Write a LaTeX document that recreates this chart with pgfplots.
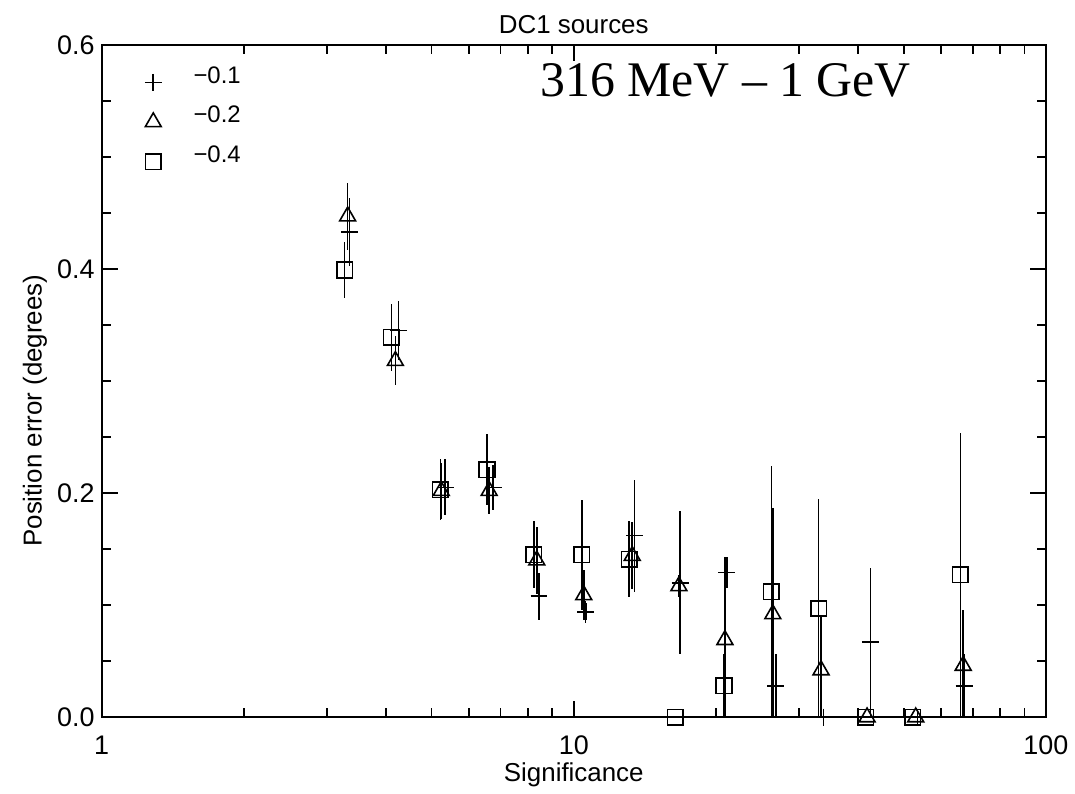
\documentclass[border=0pt]{standalone}
\usepackage{fontspec}
\setmainfont{Liberation Sans}
\newfontfamily\timesfont{Liberation Serif}
\usepackage{pgfplots}
\pgfplotsset{compat=1.18}
\begin{document}
\begin{tikzpicture}
\begin{axis}[
    xmode=log,
    scale only axis,
    width=474pt, height=337.5pt,
    xmin=1, xmax=100,
    ymin=0, ymax=0.6,
    clip mode=individual,
    xtick={1,10,100}, xticklabels={1,10,100},
    ytick={0,0.2,0.4,0.6},
    minor ytick={0.05,0.1,0.15,0.25,0.3,0.35,0.45,0.5,0.55},
    yticklabel style={/pgf/number format/.cd, fixed, fixed zerofill, precision=1},
    /pgf/number format/assume math mode=true,
    tick label style={font=\fontsize{13.5}{15}\selectfont},
    xticklabel style={anchor=base, yshift=-18.5pt},
    title={DC1 sources},
    title style={font=\fontsize{13}{15}\selectfont, at={(rel axis cs:0.5,1)}, anchor=base, yshift=-0.5pt},
    xlabel={Significance},
    xlabel style={font=\fontsize{13}{15}\selectfont, at={(rel axis cs:0.5,0)}, anchor=base, yshift=-32.5pt},
    ylabel={Position error (degrees)},
    every axis y label/.style={font=\fontsize{13}{15}\selectfont, at={(rel axis cs:-0.0707,0.456)}, anchor=center, rotate=90},
    axis line style={line width=1pt},
    major tick length=8pt, minor tick length=4.5pt,
    every tick/.style={black, line width=0.8pt},
    legend style={draw=none, fill=none, at={(rel axis cs:0.037,0.98)}, anchor=north west,
      font=\fontsize{12}{14}\selectfont, row sep=0pt},
    legend cell align=left,
    legmark/.style={legend image code/.code={%
      \path (-5pt,0pt) (18pt,0pt);
      \draw[##1] plot coordinates {(0pt,0pt)};}},
    error bars/y dir=both, error bars/y explicit,
    error bars/error mark=none,
    error bars/error bar style={line width=0.75pt},
  ]

  % index -0.1
  \addplot[only marks, legmark, mark=+, mark size=4.25pt, mark options={line width=0.8pt}] coordinates {
    (3.35,0.433) +- (0,0.03)
    (4.25,0.345) +- (0,0.026)
    (5.34,0.205) +- (0,0.025)
    (6.75,0.205) +- (0,0.02)
    (8.44,0.108) +- (0,0.021)
    (10.6,0.094) +- (0,0.01)
    (13.45,0.162) +- (0,0.05)
    (16.8,0.120) +- (0,0.064)
    (21.1,0.129) +- (0,0.014)
    (26.8,0.028) +- (0,0.028)
    (33.8,0.0) +- (0,0.006)
    (42.5,0.067) +- (0,0.066)
    (53.5,0.0) +- (0,0.0)
    (67.1,0.028) +- (0,0.028)
  };
  \addlegendentry{\raisebox{6pt}{−0.1}}

  % index -0.2
  \addplot[only marks, legmark, mark=triangle, mark size=4.6pt, mark options={line width=0.8pt}] coordinates {
    (3.32,0.447) +- (0,0.03)
    (4.19,0.318) +- (0,0.022)
    (5.24,0.202) +- (0,0.025)
    (6.62,0.202) +- (0,0.021)
    (8.35,0.140) +- (0,0.03)
    (10.5,0.109) +- (0,0.022)
    (13.3,0.144) +- (0,0.03)
    (16.7,0.117) +- (0,0.01)
    (20.9,0.069) +- (0,0.074)
    (26.4,0.092) +- (0,0.095)
    (33.4,0.042) +- (0,0.047)
    (41.8,0.0) +- (0,0.0)
    (53.0,0.0) +- (0,0.0)
    (66.8,0.046) +- (0,0.05)
  };
  \addlegendentry{\raisebox{6pt}{−0.2}}

  % index -0.4
  \addplot[only marks, legmark, mark=square, mark size=3.9pt, mark options={line width=0.8pt}] coordinates {
    (3.27,0.399) +- (0,0.025)
    (4.11,0.339) +- (0,0.03)
    (5.22,0.203) +- (0,0.027)
    (6.55,0.221) +- (0,0.032)
    (8.23,0.145) +- (0,0.03)
    (10.4,0.145) +- (0,0.049)
    (13.1,0.141) +- (0,0.034)
    (16.4,0.0) +- (0,0.0)
    (20.8,0.028) +- (0,0.028)
    (26.2,0.112) +- (0,0.112)
    (33.0,0.097) +- (0,0.098)
    (41.5,0.0) +- (0,0.0)
    (52.2,0.0) +- (0,0.0)
    (65.9,0.127) +- (0,0.127)
  };
  \addlegendentry{\raisebox{6pt}{−0.4}}

  \node[anchor=base west, font=\timesfont\fontsize{25}{28}\selectfont]
    at (rel axis cs:0.457,0.923) {316 MeV – 1 GeV};
\end{axis}
\path ([xshift=-51pt,yshift=-34pt]current axis.south west)
  rectangle ([xshift=12.5pt,yshift=22.5pt]current axis.north east);
\end{tikzpicture}
\end{document}
